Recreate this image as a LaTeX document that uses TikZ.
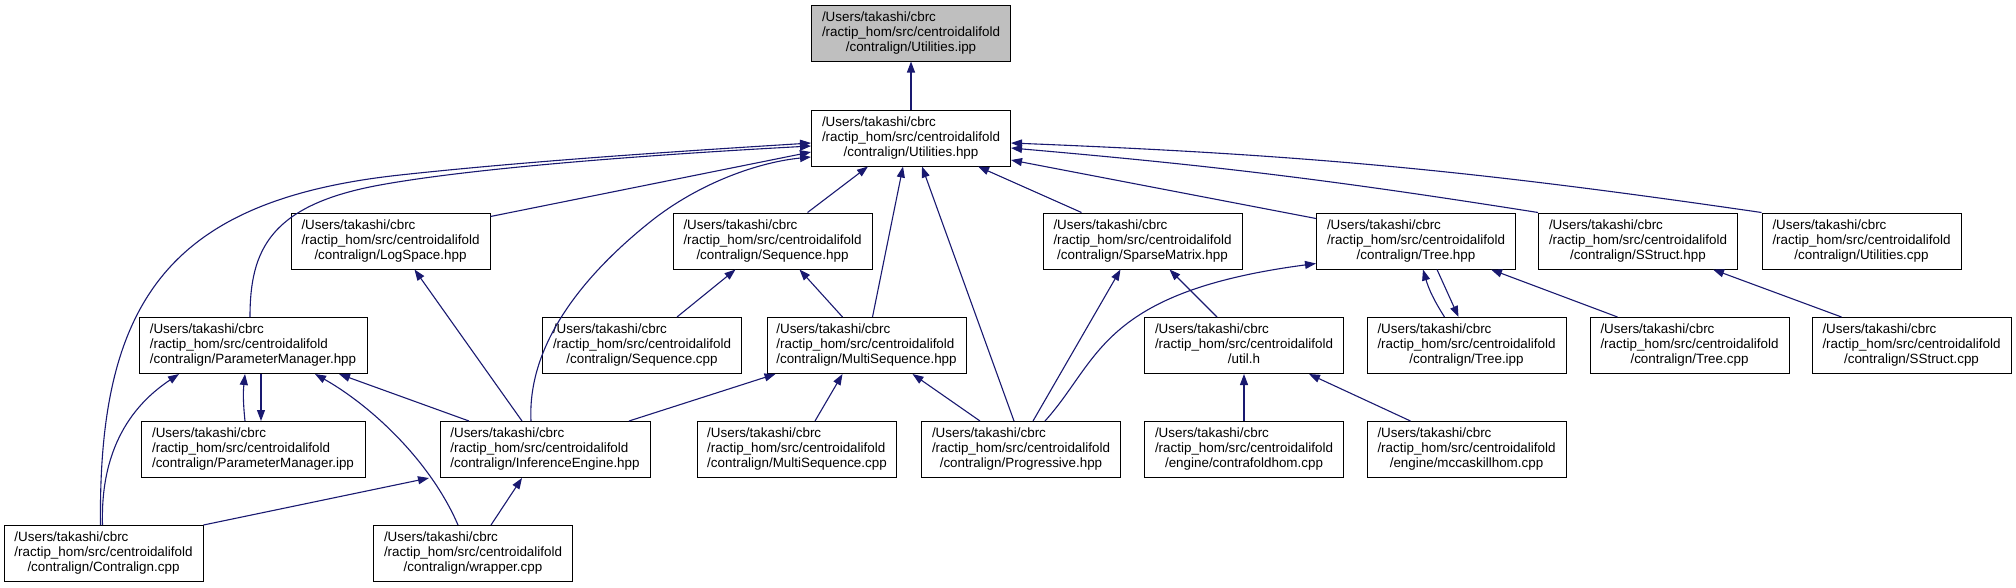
\documentclass[tikz,border=0pt]{standalone}
\usepackage{fontspec}
\setmainfont{Liberation Sans}
\usetikzlibrary{arrows.meta}
\definecolor{edgeblue}{HTML}{191970}
\definecolor{rootgray}{HTML}{BFBFBF}
\newcommand{\incfile}[1]{\begin{tabular}{@{}l@{}}/Users/takashi/cbrc\\/ractip\_hom/src/centroidalifold\\\multicolumn{1}{@{}c@{}}{#1}\end{tabular}}

\begin{document}
\begin{tikzpicture}[x=1pt,y=-1pt,
  font=\fontsize{13.4}{15}\selectfont,
  filebox/.style={draw,line width=1pt,minimum width=199pt,minimum height=56pt,inner sep=0pt,fill=white},
  rootbox/.style={filebox,fill=rootgray},
  inc/.style={-{Triangle[length=11pt,width=8pt]},line width=1.1pt,edgeblue},
]
\useasboundingbox (0,0) rectangle (2016,587);
% rows 0 and 1
\node[rootbox] (uipp) at (911,33) {\incfile{/contralign/Utilities.ipp}};
\node[filebox] (uhpp) at (911,138) {\incfile{/contralign/Utilities.hpp}};
% row 2
\node[filebox] (logspace) at (390.5,241) {\incfile{/contralign/LogSpace.hpp}};
\node[filebox] (seqhpp) at (772.5,241) {\incfile{/contralign/Sequence.hpp}};
\node[filebox] (sparse) at (1142.5,241) {\incfile{/contralign/SparseMatrix.hpp}};
\node[filebox] (treehpp) at (1416,241) {\incfile{/contralign/Tree.hpp}};
\node[filebox] (sshpp) at (1638,241) {\incfile{/contralign/SStruct.hpp}};
\node[filebox] (ucpp) at (1861.5,241) {\incfile{/contralign/Utilities.cpp}};
% row 3
\node[filebox,minimum width=228pt] (pmhpp) at (253,345.5) {\incfile{/contralign/ParameterManager.hpp}};
\node[filebox] (seqcpp) at (642,345.5) {\incfile{/contralign/Sequence.cpp}};
\node[filebox] (mseqhpp) at (866.5,345.5) {\incfile{/contralign/MultiSequence.hpp}};
\node[filebox] (utilh) at (1244,345.5) {\incfile{/util.h}};
\node[filebox] (treeipp) at (1466.5,345.5) {\incfile{/contralign/Tree.ipp}};
\node[filebox] (treecpp) at (1689.5,345.5) {\incfile{/contralign/Tree.cpp}};
\node[filebox] (sscpp) at (1911.5,345.5) {\incfile{/contralign/SStruct.cpp}};
% row 4
\node[filebox,minimum width=224pt] (pmipp) at (253,449.5) {\incfile{/contralign/ParameterManager.ipp}};
\node[filebox,minimum width=210pt] (infeng) at (545,449.5) {\incfile{/contralign/InferenceEngine.hpp}};
\node[filebox] (mseqcpp) at (797,449.5) {\incfile{/contralign/MultiSequence.cpp}};
\node[filebox] (prog) at (1021,449.5) {\incfile{/contralign/Progressive.hpp}};
\node[filebox] (cfold) at (1244,449.5) {\incfile{/engine/contrafoldhom.cpp}};
\node[filebox] (mccask) at (1466.5,449.5) {\incfile{/engine/mccaskillhom.cpp}};
% row 5
\node[filebox] (contralign) at (103.5,553.5) {\incfile{/contralign/Contralign.cpp}};
\node[filebox] (wrapper) at (473,553.5) {\incfile{/contralign/wrapper.cpp}};
% into Utilities.ipp
\draw[inc] (uhpp) -- (uipp);
% into Utilities.hpp
\draw[inc] ([xshift=-3pt]contralign.north) .. controls (98,300) and (170,200) .. (400,175) .. controls (538,160) and (700,150) .. ([yshift=-5pt]uhpp.west);
\draw[inc] ([xshift=-3pt]pmhpp.north) .. controls (250,250) and (270,205) .. (380,185) .. controls (490,165) and (700,152) .. ([yshift=-8pt]uhpp.west);
\draw[inc] ([yshift=-4pt]logspace.north east) -- ([yshift=-14pt]uhpp.west);
\draw[inc] ([xshift=-14pt]infeng.north) .. controls (527,340) and (590,270) .. (650,222) .. controls (700,182) and (760,162) .. ([yshift=-19pt]uhpp.west);
\draw[inc] ([xshift=35pt]seqhpp.north) -- ([xshift=-43pt]uhpp.south);
\draw[inc] ([xshift=6pt]mseqhpp.north) -- ([xshift=-8pt]uhpp.south);
\draw[inc] ([xshift=-7pt]prog.north) -- ([xshift=11pt]uhpp.south);
\draw[inc] ([xshift=-61pt]sparse.north) -- ([xshift=67pt]uhpp.south);
\draw[inc] ([yshift=-6pt]treehpp.north west) -- ([yshift=-22pt]uhpp.east);
\draw[inc] (sshpp.north west) to[bend right=2] ([yshift=-10pt]uhpp.east);
\draw[inc] (ucpp.north west) to[bend right=3] ([yshift=-5pt]uhpp.east);
% Sequence.hpp, LogSpace.hpp
\draw[inc] ([xshift=35pt]seqcpp.north) -- ([xshift=-37pt]seqhpp.south);
\draw[inc] ([xshift=-24pt]mseqhpp.north) -- ([xshift=27pt]seqhpp.south);
\draw[inc] ([xshift=-23pt]infeng.north) -- ([xshift=24pt]logspace.south);
% SparseMatrix.hpp
\draw[inc] ([xshift=12pt]prog.north) -- ([xshift=-22pt]sparse.south);
\draw[inc] ([xshift=-27pt]utilh.north) -- ([xshift=27pt]sparse.south);
% Tree.hpp, SStruct.hpp
\draw[inc] ([xshift=24pt]prog.north) .. controls (1100,360) and (1100,292) .. ([yshift=6pt]treehpp.south west);
\draw[inc] ([xshift=-22pt]treeipp.north) to[bend left=8] ([xshift=7pt]treehpp.south);
\draw[inc] ([xshift=21pt]treehpp.south) -- ([xshift=-8pt]treeipp.north);
\draw[inc] ([xshift=-72pt]treecpp.north) -- ([xshift=75pt]treehpp.south);
\draw[inc] ([xshift=-70pt]sscpp.north) -- ([xshift=75pt]sshpp.south);
% ParameterManager.hpp
\draw[inc] ([xshift=-1pt]contralign.north) .. controls (100,440) and (140,400) .. ([xshift=-74pt]pmhpp.south);
\draw[inc] ([xshift=-8pt]pmipp.north) to[bend left=6] ([xshift=-8pt]pmhpp.south);
\draw[inc] ([xshift=8pt]pmhpp.south) -- ([xshift=8pt]pmipp.north);
\draw[inc] ([xshift=-15pt]wrapper.north) .. controls (430,460) and (370,405) .. ([xshift=62pt]pmhpp.south);
\draw[inc] ([xshift=-76pt]infeng.north) -- ([xshift=86pt]pmhpp.south);
% InferenceEngine.hpp
\draw[inc] (contralign.north east) -- ([xshift=-116pt]infeng.south);
\draw[inc] ([xshift=18pt]wrapper.north) -- ([xshift=-23pt]infeng.south);
% MultiSequence.hpp
\draw[inc] ([xshift=84pt]infeng.north) -- ([xshift=-91pt]mseqhpp.south);
\draw[inc] ([xshift=18pt]mseqcpp.north) -- ([xshift=-24pt]mseqhpp.south);
\draw[inc] ([xshift=-41pt]prog.north) -- ([xshift=46pt]mseqhpp.south);
% util.h
\draw[inc] (cfold) -- (utilh);
\draw[inc] ([xshift=-56pt]mccask.north) -- ([xshift=65pt]utilh.south);
\end{tikzpicture}
\end{document}
